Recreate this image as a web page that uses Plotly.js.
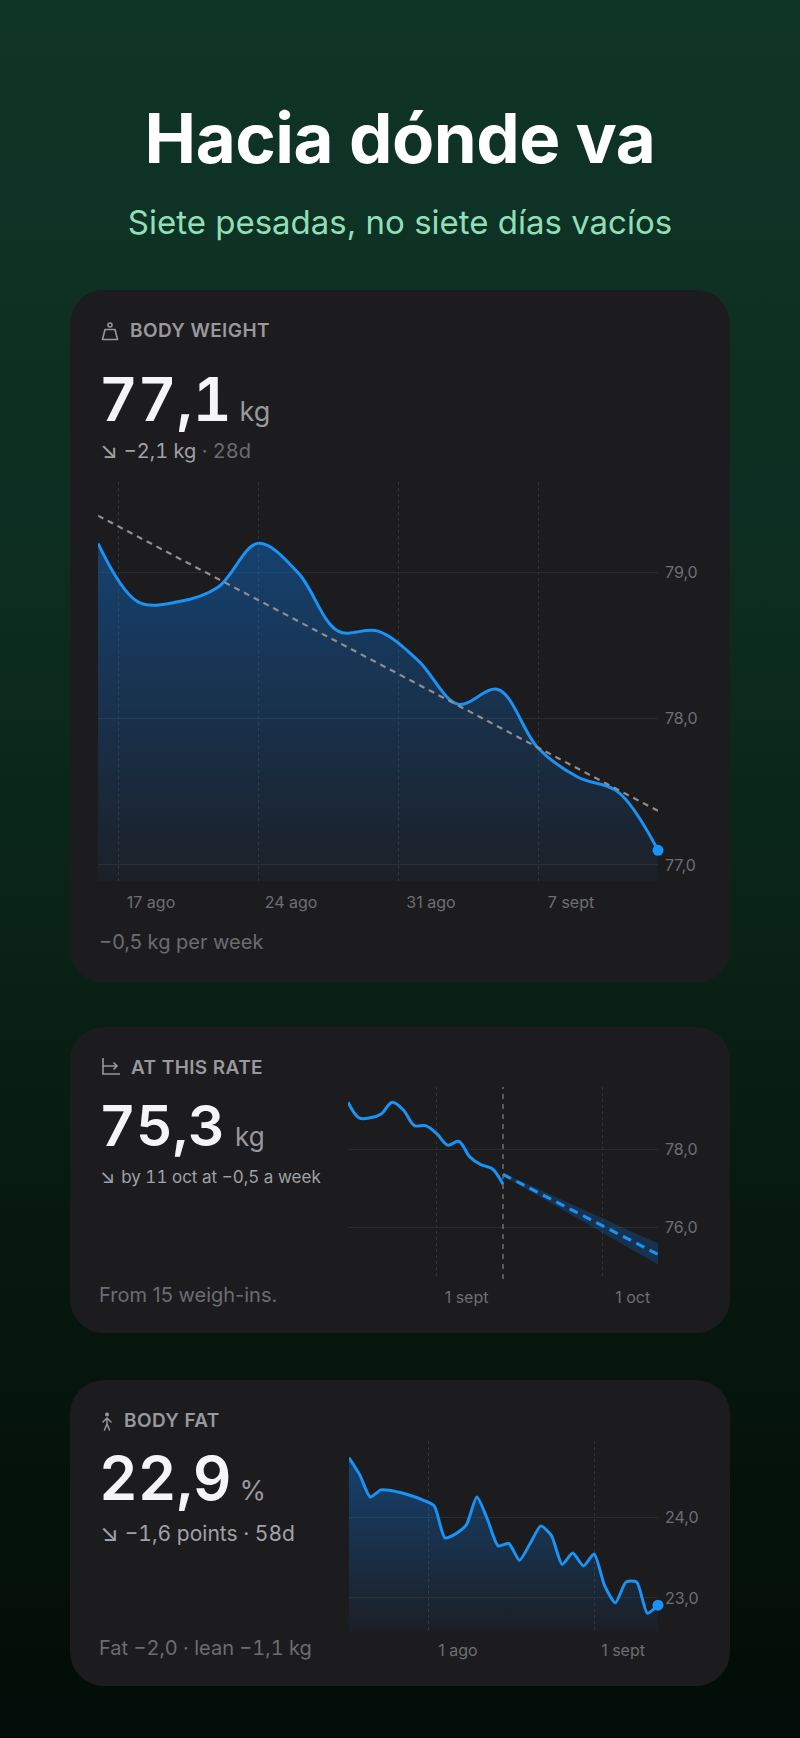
<!DOCTYPE html>
<html lang="es">
<head>
<meta charset="utf-8">
<script src="https://cdn.plot.ly/plotly-3.0.1.min.js"></script>
<style>
  html, body { margin: 0; padding: 0; width: 800px; height: 1738px; overflow: hidden; }
  body {
    position: relative;
    font-family: Inter, 'Noto Sans', sans-serif;
    color: #f5f5f7;
    background: linear-gradient(180deg, #0f3527 0%, #0c2c20 35%, #07190f 70%, #030c08 100%);
  }
  .title { position: absolute; top: 104px; left: 0; width: 800px; text-align: center;
    font-size: 69px; line-height: 69px; font-weight: 700; letter-spacing: -0.5px; color: #fff; }
  .subtitle { position: absolute; top: 206px; left: 0; width: 800px; text-align: center;
    font-size: 33px; line-height: 33px; color: #90dfb6; }
  .card { position: absolute; left: 70px; width: 660px; background: #1c1c1e; border-radius: 34px; }
  .head { position: absolute; top: 30px; font-size: 19px; line-height: 22px; font-weight: 600;
    letter-spacing: 0.4px; color: #98989d; }
  .icon { position: absolute; }
  .big { position: absolute; left: 29px; font-size: 60px; line-height: 60px; font-weight: 600;
    font-variant-numeric: tabular-nums; white-space: nowrap; }
  .big .unit { font-size: 27px; font-weight: 400; color: #98989d; margin-left: 8px; }
  .sub { position: absolute; left: 30px; color: #a1a1a6; white-space: nowrap;
    font-variant-numeric: tabular-nums; }
  .sub .arrow { display: inline-block; font-size: 1.15em; line-height: 1; margin-right: 6px; }
  .sub .dim { color: #6c6c70; }
  .foot { position: absolute; left: 29px; top: 257px; font-size: 20px; line-height: 22px; color: #6c6c70;
    white-space: nowrap; }
  .chart { position: absolute; }
</style>
</head>
<body>

<div class="title">Hacia dónde va</div>
<div class="subtitle">Siete pesadas, no siete días vacíos</div>

<div class="card" style="top:290px; height:693px;">
  <svg class="icon" style="left:31px; top:32px;" width="18" height="19" viewBox="0 0 18 19" fill="none" stroke="#98989d" stroke-width="1.6">
    <circle cx="9" cy="3" r="2"/>
    <path d="M4 7.5 H14 L16.5 17.5 H1.5 Z" stroke-linejoin="round"/>
  </svg>
  <div class="head" style="left:60px;">BODY WEIGHT</div>
  <div class="big" style="top:79px;">77,1<span class="unit">kg</span></div>
  <div class="sub" style="top:149px; font-size:20px; line-height:24px;"><span class="arrow">↘</span>−2,1 kg <span class="dim">· 28d</span></div>
  <div id="weight-chart" class="chart" style="left:28px; top:182px; width:620px; height:450px;"></div>
  <div class="foot" style="top:641px;">−0,5 kg per week</div>
</div>

<div class="card" style="top:1027px; height:306px;">
  <svg class="icon" style="left:31px; top:30px;" width="20" height="19" viewBox="0 0 20 19" fill="none" stroke="#98989d" stroke-width="1.6">
    <path d="M2 1 V17 H19"/>
    <path d="M2 9 H16 M12.5 5.5 L16 9 L12.5 12.5"/>
  </svg>
  <div class="head" style="left:61px;">AT THIS RATE</div>
  <div class="big" style="top:70px; font-size:57px; line-height:57px;">75,3<span class="unit" style="font-size:26px; margin-left:10px;">kg</span></div>
  <div class="sub" style="top:140px; font-size:17px; line-height:21px;"><span class="arrow">↘</span>by 11 oct at −0,5 a week</div>
  <div id="rate-chart" class="chart" style="left:278px; top:50px; width:370px; height:240px;"></div>
  <div class="foot">From 15 weigh-ins.</div>
</div>

<div class="card" style="top:1380px; height:306px;">
  <svg class="icon" style="left:31px; top:32px;" width="12" height="19" viewBox="0 0 12 19" fill="#98989d" stroke="#98989d" stroke-width="1.5" stroke-linecap="round">
    <circle cx="6" cy="2.5" r="2" stroke="none"/>
    <path d="M6 6 V12 M2 10 L6 6 L10 10 M6 12 L3.5 18 M6 12 L8.5 18" fill="none"/>
  </svg>
  <div class="head" style="left:54px;">BODY FAT</div>
  <div class="big" style="top:68px;">22,9<span class="unit">%</span></div>
  <div class="sub" style="top:141px; font-size:21px; line-height:26px;"><span class="arrow">↘</span>−1,6 points · 58d</div>
  <div id="fat-chart" class="chart" style="left:279px; top:51px; width:369px; height:240px;"></div>
  <div class="foot" style="font-variant-numeric: tabular-nums;">Fat −2,0 · lean −1,1 kg</div>
</div>

<script>
const BLUE = '#1993f5';

// body weight, one weigh-in every two days
const weightDates = ['2025-08-16', '2025-08-18', '2025-08-20', '2025-08-22', '2025-08-24',
    '2025-08-26', '2025-08-28', '2025-08-30', '2025-09-01', '2025-09-03', '2025-09-05',
    '2025-09-07', '2025-09-09', '2025-09-11', '2025-09-13'];
const weightKg = [79.2, 78.8, 78.8, 78.9, 79.2, 79.0, 78.6, 78.6, 78.4, 78.1, 78.2, 77.8, 77.6, 77.5, 77.1];
const weightTrendDates = ['2025-08-16', '2025-09-13'];
const weightTrendKg = [79.39, 77.37];
const weightTickVals = ['2025-08-17', '2025-08-24', '2025-08-31', '2025-09-07'];
const weightTickText = ['17 ago', '24 ago', '31 ago', '7 sept'];

// projection at the current rate
const projDates = ['2025-09-13', '2025-10-11'];
const projKg = [77.35, 75.3];
const projHigh = [77.39, 75.58];
const projLow = [77.31, 75.04];
const rateTickVals = ['2025-09-01', '2025-10-01'];
const rateTickText = ['1 sept', '1 oct'];

// body fat %
const fatDates = ['2025-07-17', '2025-07-19', '2025-07-21', '2025-07-23', '2025-07-25',
    '2025-07-27', '2025-07-29', '2025-07-31', '2025-08-02', '2025-08-04', '2025-08-06',
    '2025-08-08', '2025-08-10', '2025-08-12', '2025-08-14', '2025-08-16', '2025-08-18',
    '2025-08-20', '2025-08-22', '2025-08-24', '2025-08-26', '2025-08-28', '2025-08-30',
    '2025-09-01', '2025-09-03', '2025-09-05', '2025-09-07', '2025-09-09', '2025-09-11',
    '2025-09-13'];
const fatPct = [24.75, 24.54, 24.26, 24.35, 24.34, 24.31, 24.27, 24.22, 24.15, 23.75, 23.80,
    23.91, 24.26, 23.98, 23.65, 23.68, 23.47, 23.68, 23.90, 23.78, 23.42, 23.56, 23.40,
    23.55, 23.15, 22.94, 23.20, 23.20, 22.81, 22.91];
const fatTickVals = ['2025-08-01', '2025-09-01'];
const fatTickText = ['1 ago', '1 sept'];

const tickFont = {family: 'Inter, sans-serif', size: 16, color: '#6e6e73'};

function baseLayout(bottom) {
    return {
        paper_bgcolor: 'rgba(0,0,0,0)',
        plot_bgcolor: 'rgba(0,0,0,0)',
        margin: {t: 10, b: bottom, l: 0, r: 60},
        showlegend: false,
        separators: ', ',
        font: {family: 'Inter, sans-serif', color: '#6e6e73'}
    };
}

function dateAxis(range, tickvals, ticktext, shift, standoff) {
    return {
        type: 'date',
        range: range,
        tickmode: 'array',
        tickvals: tickvals,
        ticktext: ticktext,
        showgrid: true,
        gridcolor: '#343436',
        griddash: 'dot',
        gridwidth: 1,
        zeroline: false,
        showline: false,
        ticks: '',
        tickfont: tickFont,
        ticklabelshift: shift,
        ticklabelstandoff: standoff,
        fixedrange: true
    };
}

function valueAxis(range, tick0, dtick) {
    return {
        range: range,
        side: 'right',
        tickmode: 'linear',
        tick0: tick0,
        dtick: dtick,
        tickformat: '.1f',
        showgrid: true,
        gridcolor: '#2b2b2d',
        gridwidth: 1,
        zeroline: false,
        showline: false,
        ticks: '',
        tickfont: tickFont,
        ticklabelstandoff: 6,
        fixedrange: true
    };
}

const config = {staticPlot: true, displayModeBar: false};

// card 1: body weight
(function () {
    const yRange = [76.89, 79.62];
    const last = weightDates.length - 1;
    const traces = [
        {
            x: weightDates, y: weightKg, type: 'scatter', mode: 'lines',
            line: {color: BLUE, width: 3, shape: 'spline', smoothing: 1},
            fill: 'tozeroy',
            fillgradient: {
                type: 'vertical', start: yRange[0], stop: Math.max(...weightKg),
                colorscale: [[0, 'rgba(10,132,255,0.04)'], [1, 'rgba(10,132,255,0.36)']]
            }
        },
        {
            x: weightTrendDates, y: weightTrendKg, type: 'scatter', mode: 'lines',
            line: {color: '#8e8e93', width: 2.2, dash: '6px,5px'}
        },
        {
            x: [weightDates[last]], y: [weightKg[last]], type: 'scatter', mode: 'markers',
            marker: {color: BLUE, size: 11}, cliponaxis: false
        }
    ];
    const layout = baseLayout(41);
    layout.xaxis = dateAxis([weightDates[0], weightDates[last]], weightTickVals, weightTickText, 33, 10);
    layout.yaxis = valueAxis(yRange, 77, 1);
    Plotly.newPlot('weight-chart', traces, layout, config);
})();

// card 2: at this rate
(function () {
    const last = weightDates.length - 1;
    const traces = [
        {
            x: projDates, y: projLow, type: 'scatter', mode: 'lines',
            line: {width: 0, color: 'rgba(0,0,0,0)'}
        },
        {
            x: projDates, y: projHigh, type: 'scatter', mode: 'lines',
            line: {width: 0, color: 'rgba(0,0,0,0)'},
            fill: 'tonexty', fillcolor: 'rgba(10,132,255,0.22)'
        },
        {
            x: weightDates, y: weightKg, type: 'scatter', mode: 'lines',
            line: {color: BLUE, width: 3, shape: 'spline', smoothing: 1}
        },
        {
            x: projDates, y: projKg, type: 'scatter', mode: 'lines',
            line: {color: BLUE, width: 3, dash: '9px,6px'}
        }
    ];
    const layout = baseLayout(38);
    layout.xaxis = dateAxis([weightDates[0], projDates[1]], rateTickVals, rateTickText, 30, 7);
    layout.yaxis = valueAxis([74.67, 79.59], 76, 2);
    layout.shapes = [{
        type: 'line', xref: 'x', yref: 'paper',
        x0: weightDates[last], x1: weightDates[last], y0: 0, y1: 1,
        line: {color: '#6e6e73', width: 1.5, dash: '5px,5px'}
    }];
    Plotly.newPlot('rate-chart', traces, layout, config);
})();

// card 3: body fat
(function () {
    const yRange = [22.575, 24.96];
    const last = fatDates.length - 1;
    const traces = [
        {
            x: fatDates, y: fatPct, type: 'scatter', mode: 'lines',
            line: {color: BLUE, width: 3, shape: 'spline', smoothing: 0.6},
            fill: 'tozeroy',
            fillgradient: {
                type: 'vertical', start: yRange[0], stop: Math.max(...fatPct),
                colorscale: [[0, 'rgba(10,132,255,0.03)'], [1, 'rgba(10,132,255,0.36)']]
            }
        },
        {
            x: [fatDates[last]], y: [fatPct[last]], type: 'scatter', mode: 'markers',
            marker: {color: BLUE, size: 11}, cliponaxis: false
        }
    ];
    const layout = baseLayout(39);
    layout.xaxis = dateAxis([fatDates[0], fatDates[last]], fatTickVals, fatTickText, 29, 7);
    layout.yaxis = valueAxis(yRange, 23, 1);
    Plotly.newPlot('fat-chart', traces, layout, config);
})();
</script>
</body>
</html>
